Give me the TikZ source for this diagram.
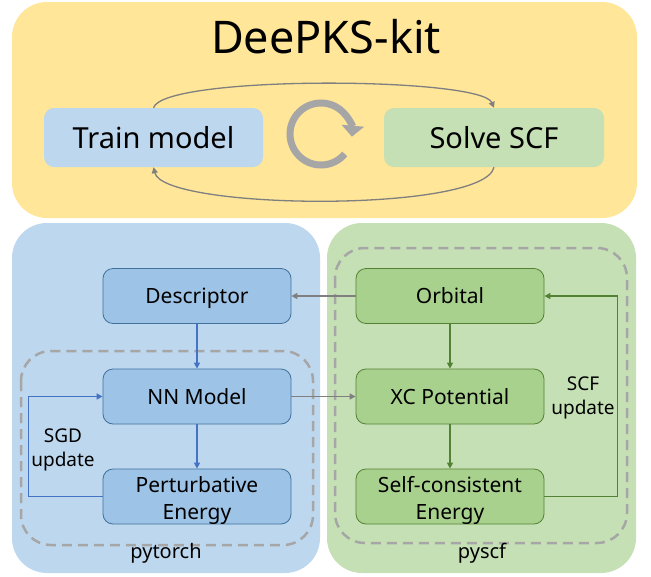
\documentclass[tikz,border=0pt]{standalone}
\usepackage{fontspec}
\setmainfont{Noto Sans}
\usetikzlibrary{arrows.meta,calc}
\definecolor{yel}{HTML}{FFE699}
\definecolor{bluepanel}{HTML}{BDD7EE}
\definecolor{greenpanel}{HTML}{C5E0B4}
\definecolor{bluenode}{HTML}{9DC3E6}
\definecolor{bluedraw}{HTML}{41719C}
\definecolor{greennode}{HTML}{A9D18E}
\definecolor{greendraw}{HTML}{548235}
\definecolor{bluearr}{HTML}{4472C4}
\definecolor{grayarr}{HTML}{7F7F7F}
\definecolor{lightgray}{HTML}{A6A6A6}
\tikzset{
  tip/.style={-{Triangle[length=6pt,width=6pt]}},
  bnode/.style={draw=bluedraw, fill=bluenode, line width=0.8pt, rounded corners=10pt,
    minimum width=188pt, minimum height=55pt, inner sep=0pt, font=\fontsize{21}{27}\selectfont, align=center},
  gnode/.style={bnode, draw=greendraw, fill=greennode},
  oneline/.style={text height=15pt, text depth=0pt},
  twoline/.style={text height=45pt, text depth=0pt},
  barr/.style={tip, draw=bluearr, line width=1.5pt},
  garr/.style={tip, draw=greendraw, line width=1.5pt},
  grarr/.style={tip, draw=grayarr, line width=1.5pt},
  dashbox/.style={draw=lightgray, line width=2.5pt, dash pattern=on 10pt off 6pt, rounded corners=30pt},
  lbl/.style={font=\fontsize{19}{24}\selectfont, align=center, inner sep=0pt},
}
\begin{document}
\begin{tikzpicture}[x=1pt,y=-1pt]
\useasboundingbox (0,0) rectangle (651,576);
% panels
\fill[yel, rounded corners=35pt] (12,2) rectangle (637,218);
\fill[bluepanel, rounded corners=35pt] (12,223) rectangle (320,573);
\fill[greenpanel, rounded corners=35pt] (327,223) rectangle (636,573);
% title
\node[anchor=base, font=\fontsize{45}{50}\selectfont, inner sep=0pt] (title) at (326,53) {DeePKS-kit};
% top boxes
\node[fill=bluepanel, rounded corners=10pt, minimum width=219pt, minimum height=59pt, inner sep=0pt,
  font=\fontsize{29}{32}\selectfont, text height=21pt, text depth=0pt] (train) at (153.5,137.5) {Train model};
\node[fill=greenpanel, rounded corners=10pt, minimum width=220pt, minimum height=59pt, inner sep=0pt,
  font=\fontsize{29}{32}\selectfont, text height=21pt, text depth=0pt] (solve) at (494,137.5) {Solve SCF};
\draw[grarr, line width=1.3pt] (train.north) .. controls +(10,-33) and +(-13,-31) .. (solve.north);
\draw[grarr, line width=1.3pt] (solve.south) .. controls +(-10,46) and +(10,43) .. (train.south);
% cycle symbol
\coordinate (cyc) at (321,134);
\draw[lightgray, line width=7pt, -{Triangle[length=11pt,width=22pt]}] ($(cyc)+(40:31)$) arc[start angle=40, end angle=365, radius=31];
% dashed boxes
\draw[dashbox] (21,351) rectangle (313,545);
\draw[dashbox] (335,248) rectangle (627,543);
% blue nodes
\node[bnode, oneline] (desc) at (197,296) {Descriptor};
\node[bnode, oneline] (nn) at (197,396.5) {NN Model};
\node[bnode, twoline] (pert) at (197,496.5) {Perturbative\\Energy};
% green nodes
\node[gnode, oneline] (orb) at (450,296) {Orbital};
\node[gnode, oneline] (xc) at (450,396.5) {XC Potential};
\node[gnode, twoline] (sce) at (450,496.5) {Self-consistent\\Energy};
% arrows
\draw[barr] (desc) -- (nn);
\draw[barr] (nn) -- (pert);
\draw[barr] (pert.west) -- ++(-74,0) |- (nn.west);
\draw[garr] (orb) -- (xc);
\draw[garr] (xc) -- (sce);
\draw[garr] (sce.east) -- ++(73,0) |- (orb.east);
\draw[grarr] (orb) -- (desc);
\draw[grarr] (nn) -- (xc);
% labels
\node[lbl] (sgd) at (63,450) {SGD\\update};
\node[lbl] (scfu) at (583,398) {SCF\\update};
\node[font=\fontsize{20}{24}\selectfont, inner sep=0pt] (pyt) at (166,553) {pytorch};
\node[font=\fontsize{20}{24}\selectfont, inner sep=0pt] (pys) at (482,553) {pyscf};
\end{tikzpicture}
\end{document}
